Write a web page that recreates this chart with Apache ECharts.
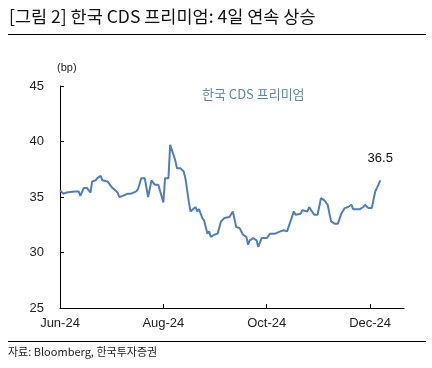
<!DOCTYPE html>
<html><head><meta charset="utf-8">
<script src="https://cdn.jsdelivr.net/npm/echarts@6/dist/echarts.min.js"></script>
<style>html,body{margin:0;padding:0;background:#fff}#c{width:432px;height:368px}</style>
</head><body><div id="c"></div>
<script>
const dates = ['2024-06-03','2024-06-05','2024-06-07','2024-06-09','2024-06-12','2024-06-14','2024-06-15','2024-06-17','2024-06-19','2024-06-21','2024-06-22','2024-06-24','2024-06-25','2024-06-27','2024-06-28','2024-07-01','2024-07-02','2024-07-04','2024-07-07','2024-07-08','2024-07-10','2024-07-13','2024-07-15','2024-07-18','2024-07-19','2024-07-21','2024-07-23','2024-07-25','2024-07-27','2024-07-29','2024-07-31','2024-08-03','2024-08-04','2024-08-06','2024-08-07','2024-08-09','2024-08-10','2024-08-11','2024-08-13','2024-08-15','2024-08-16','2024-08-18','2024-08-19','2024-08-20','2024-08-22','2024-08-23','2024-08-24','2024-08-26','2024-08-27','2024-08-29','2024-08-30','2024-08-31','2024-09-02','2024-09-04','2024-09-06','2024-09-08','2024-09-11','2024-09-13','2024-09-15','2024-09-17','2024-09-19','2024-09-21','2024-09-22','2024-09-23','2024-09-25','2024-09-27','2024-09-28','2024-09-30','2024-10-03','2024-10-05','2024-10-08','2024-10-11','2024-10-13','2024-10-15','2024-10-17','2024-10-19','2024-10-20','2024-10-21','2024-10-23','2024-10-24','2024-10-27','2024-10-28','2024-10-29','2024-10-31','2024-11-02','2024-11-04','2024-11-06','2024-11-08','2024-11-09','2024-11-10','2024-11-12','2024-11-14','2024-11-16','2024-11-18','2024-11-20','2024-11-22','2024-11-23','2024-11-25','2024-11-27','2024-11-29','2024-11-30','2024-12-02','2024-12-04','2024-12-06','2024-12-07','2024-12-08','2024-12-09'];
const cds = [35.6,35.3,35.4,35.45,35.5,35.5,35.1,35.8,35.8,35.4,36.4,36.5,36.7,36.9,36.5,36.4,36.3,35.8,35.4,35.0,35.1,35.3,35.3,35.5,35.7,36.7,36.7,35.0,36.5,36.1,36.1,34.5,36.7,36.7,39.7,38.8,38.3,37.6,37.6,37.3,36.7,34.6,33.7,33.8,34.1,33.7,33.9,33.1,32.9,31.7,31.9,31.4,31.6,31.7,32.8,33.1,33.2,33.7,32.3,32.2,31.6,31.4,30.7,31.1,31.3,31.1,30.5,31.3,31.3,31.7,31.7,31.9,32.0,31.9,32.8,33.7,33.4,33.5,33.5,33.8,33.7,34.1,34.1,33.4,33.4,34.9,34.7,34.3,33.5,32.8,32.6,32.6,33.5,34.0,34.1,34.3,33.9,33.9,33.9,34.1,34.3,34.0,34.0,35.5,35.8,35.9,36.5];
const tickLabels = ['Jun-24','Aug-24','Oct-24','Dec-24'];
const tickDates = ['2024-06-03','2024-08-03','2024-10-03','2024-12-03'];
const yTicks = [25,30,35,40,45];

const baseMs = Date.UTC(2024,5,3);
const dayOf = s => { const p = s.split('-').map(Number); return Math.round((Date.UTC(p[0],p[1]-1,p[2]) - baseMs)/86400000); };
const tickDays = tickDates.map(dayOf);
const seriesData = dates.map((d,i) => {
  const item = { value: [dayOf(d), cds[i]] };
  if (i === dates.length - 1) item.label = { show: true, position: 'top', distance: 15, formatter: p => p.value[1].toFixed(1), color: '#111', fontSize: 13, fontFamily: 'Liberation Sans' };
  return item;
});

const chart = echarts.init(document.getElementById('c'), null, { renderer: 'canvas' });
chart.setOption({
  animation: false,
  backgroundColor: '#fff',
  grid: { left: 60, right: 28, top: 86, bottom: 60 },
  xAxis: {
    type: 'value', min: 0, max: 203, interval: 61,
    axisLine: { lineStyle: { color: '#000', width: 1 } },
    axisTick: { inside: true, length: 4, lineStyle: { color: '#000' }, customValues: tickDays },
    axisLabel: { customValues: tickDays, color: '#222', fontSize: 13, fontFamily: 'Liberation Sans', margin: 9,
      formatter: v => { const k = tickDays.indexOf(Math.round(v)); return k >= 0 ? tickLabels[k] : ''; } },
    splitLine: { show: false }
  },
  yAxis: {
    type: 'value', min: yTicks[0], max: yTicks[yTicks.length-1], interval: 5,
    axisLine: { show: true, lineStyle: { color: '#000', width: 1 } },
    axisTick: { show: true, inside: true, length: 4, lineStyle: { color: '#000' } },
    axisLabel: { color: '#222', fontSize: 13, fontFamily: 'Liberation Sans', margin: 16 },
    splitLine: { show: false }
  },
  series: [{
    type: 'line', data: seriesData, showSymbol: true, symbol: 'circle', symbolSize: 0,
    itemStyle: { color: '#4f7fb8' },
    lineStyle: { color: '#4f7fb8', width: 2 }, smooth: false
  }],
  graphic: [
    { type: 'text', left: 9, top: 8, style: { text: '[그림 2] 한국 CDS 프리미엄: 4일 연속 상승', fontSize: 17.5, fontFamily: 'Noto Sans CJK KR', fill: '#111' } },
    { type: 'line', shape: { x1: 8, y1: 34.5, x2: 426, y2: 34.5 }, style: { stroke: '#000', lineWidth: 1.2 } },
    { type: 'text', left: 57, top: 62, style: { text: '(bp)', fontSize: 11, fontFamily: 'Liberation Sans', fill: '#222' } },
    { type: 'text', left: 202, top: 88, style: { text: '한국 CDS 프리미엄', fontSize: 13, fontFamily: 'Noto Sans CJK KR', fill: '#5b86b8' } },
    { type: 'line', shape: { x1: 8, y1: 341.5, x2: 426, y2: 341.5 }, style: { stroke: '#000', lineWidth: 1.2 } },
    { type: 'text', left: 8, top: 346, style: { text: '자료: Bloomberg, 한국투자증권', fontSize: 11, fontFamily: 'Noto Sans CJK KR', fill: '#222' } }
  ]
});
</script></body></html>
